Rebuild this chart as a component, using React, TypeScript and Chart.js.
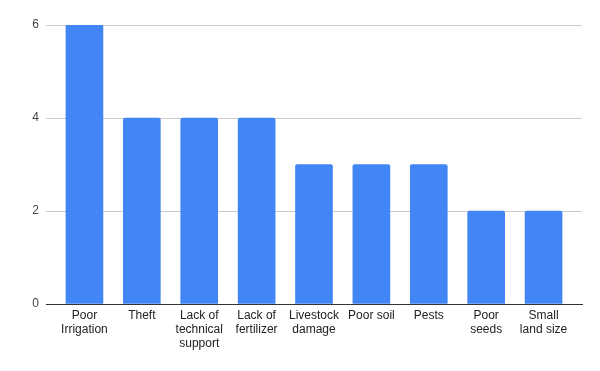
import React, { useEffect, useRef } from "react";
import { Chart, registerables } from "chart.js";

Chart.register(...registerables);

const categories: string[][] = [
  ["Poor", "Irrigation"],
  ["Theft"],
  ["Lack of", "technical", "support"],
  ["Lack of", "fertilizer"],
  ["Livestock", "damage"],
  ["Poor soil"],
  ["Pests"],
  ["Poor", "seeds"],
  ["Small", "land size"],
];
const values: number[] = [6, 4, 4, 4, 3, 3, 3, 2, 2];
const yTicks: number[] = [0, 2, 4, 6];

export default function App() {
  const ref = useRef<HTMLCanvasElement | null>(null);

  useEffect(() => {
    document.body.style.margin = "0";
    const canvas = ref.current;
    if (!canvas) return;
    const font = { family: "'Liberation Sans', Arial, sans-serif", size: 12 };
    const chart = new Chart(canvas, {
      type: "bar",
      data: {
        datasets: [
          {
            data: values.map((v, i) => ({ x: i, y: v })),
            backgroundColor: "#4285F4",
            borderRadius: { topLeft: 2, topRight: 2 },
            borderSkipped: "bottom",
            barThickness: 37,
          },
        ],
      },
      options: {
        animation: false,
        responsive: false,
        layout: { padding: { top: 25, right: 18, left: 0, bottom: 0 } },
        plugins: { legend: { display: false }, tooltip: { enabled: false } },
        scales: {
          x: {
            type: "linear",
            offset: false,
            min: -0.67,
            max: 8.67,
            grid: { display: false, offset: false, drawTicks: false },
            border: { display: true, color: "#333333", width: 1 },
            afterBuildTicks: (scale: any) => {
              scale.ticks = categories.map((_, i) => ({ value: i }));
            },
            afterFit: (scale: any) => {
              scale.height = 67;
            },
            ticks: {
              autoSkip: false,
              maxRotation: 0,
              minRotation: 0,
              padding: 5,
              color: "#222222",
              font: { ...font, lineHeight: 1.17 },
              callback: (v: any) => categories[Math.round(Number(v))] ?? "",
            },
          },
          y: {
            min: 0,
            max: 6,
            afterBuildTicks: (scale: any) => {
              scale.ticks = yTicks.map((v) => ({ value: v }));
            },
            afterFit: (scale: any) => {
              scale.width = 46;
            },
            grid: {
              drawTicks: false,
              color: (ctx: any) => (ctx.tick && ctx.tick.value === 0 ? "#333333" : "#cccccc"),
            },
            border: { display: false },
            ticks: {
              padding: 7,
              color: "#444444",
              font,
            },
          },
        },
      },
    } as any);
    return () => chart.destroy();
  }, []);

  return <canvas ref={ref} width={600} height={371} style={{ display: "block", width: 600, height: 371 }} />;
}
